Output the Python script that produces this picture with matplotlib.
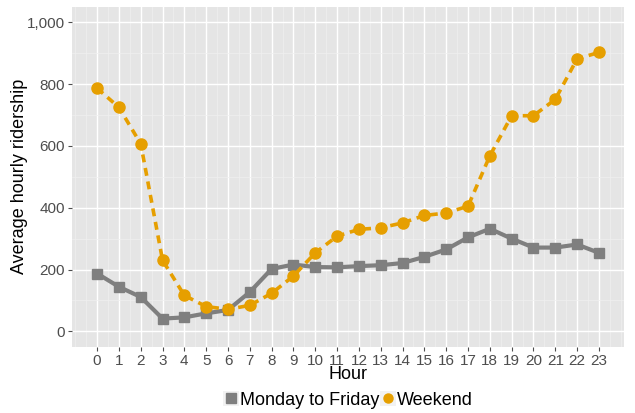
import matplotlib
matplotlib.use("Agg")
import matplotlib.pyplot as plt
from matplotlib.ticker import FuncFormatter, MultipleLocator
from matplotlib.lines import Line2D
from matplotlib.patches import Patch
from matplotlib.legend_handler import HandlerTuple

hours = list(range(24))
weekday = [187, 144, 111, 41, 45, 58, 69, 127, 202, 216, 208, 207, 211, 214,
           221, 241, 265, 304, 332, 300, 271, 271, 281, 254]
weekend = [787, 725, 607, 230, 116, 80, 71, 84, 123, 179, 254, 308, 330, 335,
           351, 375, 383, 405, 568, 698, 698, 751, 882, 903]
series_names = ["Monday to Friday", "Weekend"]
colors = ["#7F7F7F", "#E69F00"]

plt.rcParams['font.family'] = ['Liberation Sans', 'DejaVu Sans']

fig = plt.figure(figsize=(6.35, 4.13), dpi=100)
ax = fig.add_axes([0.1134, 0.1605, 0.8693, 0.8225])
ax.set_facecolor("#E5E5E5")
for s in ax.spines.values():
    s.set_visible(False)

ax.set_xlim(-1.15, 24.15)
ax.set_ylim(-50, 1050)
ax.xaxis.set_minor_locator(MultipleLocator(0.5))
ax.yaxis.set_major_locator(MultipleLocator(200))
ax.yaxis.set_minor_locator(MultipleLocator(100))
ax.set_xticks(hours)
ax.set_xticklabels([str(h) for h in hours])
ax.yaxis.set_major_formatter(FuncFormatter(lambda v, p: f"{int(v):,}"))
ax.grid(which="major", color="white", linewidth=1.0)
ax.grid(which="minor", color="#F0F0F0", linewidth=0.5)
ax.set_axisbelow(True)
ax.tick_params(which="major", length=3, color="#4D4D4D", labelcolor="#4D4D4D",
               labelsize=11, pad=2)
ax.tick_params(which="minor", length=0)

ax.plot(hours, weekday, color=colors[0], linewidth=3, marker="s", markersize=7.5,
        solid_joinstyle="round", zorder=3)
ax.plot(hours, weekend, color=colors[1], linewidth=2.6, linestyle=(0, (2.2, 1.6)),
        marker="o", markersize=8, zorder=4)

ax.set_xlabel("Hour", fontsize=13, labelpad=-1)
ax.set_ylabel("Average hourly ridership", fontsize=13)
ax.yaxis.set_label_coords(-0.08, 0.5)

bg = "#F2F2F2"
handles = [(Patch(facecolor=bg, edgecolor="none"),
            Line2D([], [], color=colors[0], marker="s", linestyle="none", markersize=6.5)),
           (Patch(facecolor=bg, edgecolor="none"),
            Line2D([], [], color=colors[1], marker="o", linestyle="none", markersize=6.5))]
leg = fig.legend(handles, series_names, loc="center", bbox_to_anchor=(0.548, 0.032),
                 ncol=2, frameon=False, fontsize=13, handlelength=0.9, handleheight=0.9,
                 handletextpad=0.05, columnspacing=0.05, borderpad=0,
                 handler_map={tuple: HandlerTuple(ndivide=1, pad=0)})

fig.savefig("out.png", dpi=100)
